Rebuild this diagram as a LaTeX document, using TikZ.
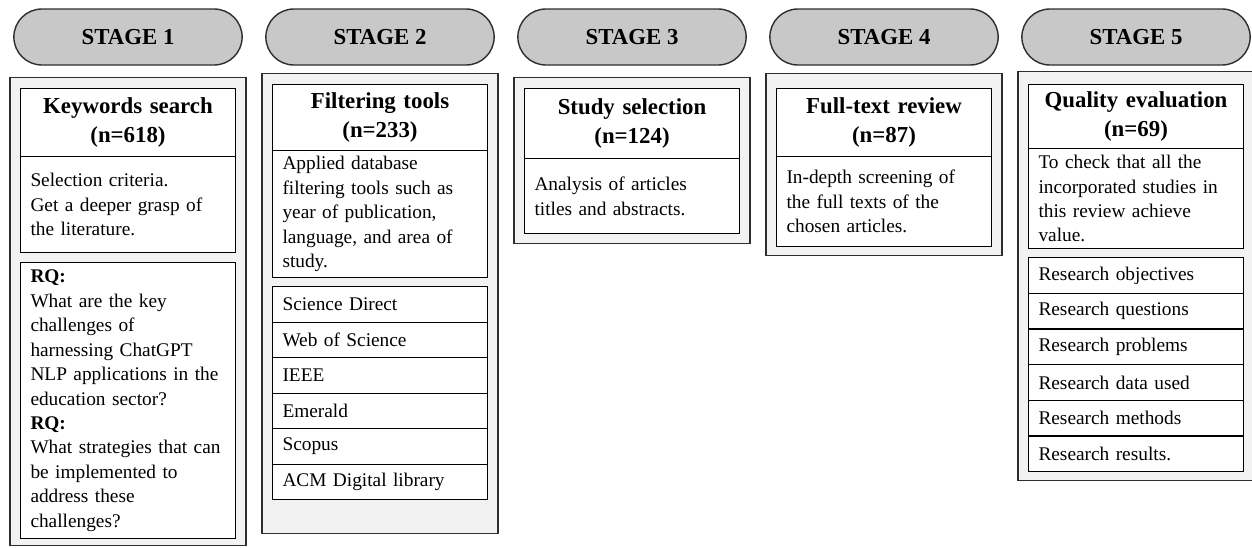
\documentclass[tikz,border=0pt]{standalone}
\usepackage{fontspec}
\setmainfont{Liberation Serif}
\usetikzlibrary{positioning,shapes.misc}

\definecolor{pillgray}{HTML}{C8C8C8}
\definecolor{framegray}{HTML}{F2F2F2}
\definecolor{edgegray}{HTML}{2E2E2E}

\tikzset{
    stagepill/.style={
        rounded rectangle,
        draw=edgegray,
        fill=pillgray,
        line width=0.8pt,
        minimum width=4.8cm,
        minimum height=1.12cm,
        font=\bfseries\fontsize{13}{15}\selectfont
    },
    stageframe/.style={
        draw=edgegray,
        fill=framegray,
        line width=0.8pt,
        minimum width=4.72cm,
        anchor=north,
        outer sep=0pt
    },
    titlebox/.style={
        draw=black,
        fill=white,
        line width=0.7pt,
        outer sep=0pt,
        inner xsep=0.2cm,
        inner ysep=2pt,
        text width=3.9cm,
        align=center,
        font=\bfseries\fontsize{13}{16.4}\selectfont
    },
    descbox/.style={
        titlebox,
        align=left,
        font=\fontsize{11}{13.9}\selectfont
    },
    itembox/.style={
        descbox,
        minimum height=0.71cm
    }
}

\begin{document}
\begin{tikzpicture}
\useasboundingbox (0,0) rectangle (25.04,-10.94);

% stage headers
\foreach \i in {1,...,5}
    \node[stagepill] (stage\i) at ({2.56+5.04*(\i-1)},-0.74) {STAGE \i};

% stage 1
\node[stageframe, minimum height=9.36cm, below=0.24cm of stage1] (f1) {};
\node[titlebox, minimum height=1.36cm, below=0.22cm of f1.north] (t1) {Keywords search\\(n=618)};
\node[descbox, minimum height=1.92cm, below=0pt of t1] (d1)
    {Selection criteria.\\Get a deeper grasp of\\the literature.};
\node[descbox, minimum height=5.52cm, below=0.2cm of d1] (rq1)
    {\textbf{RQ:}\\What are the key\\challenges of\\harnessing ChatGPT\\NLP applications in the\\education sector?\\
     \textbf{RQ:}\\What strategies that can\\be implemented to\\address these\\challenges?};

% stage 2
\node[stageframe, minimum height=9.2cm, below=0.16cm of stage2] (f2) {};
\node[titlebox, minimum height=1.32cm, below=0.22cm of f2.north] (t2) {Filtering tools\\(n=233)};
\node[descbox, minimum height=2.54cm, below=0pt of t2] (d2)
    {Applied database\\filtering tools such as\\year of publication,\\language, and area of\\study.};
\foreach \txt [count=\k] in {Science Direct, Web of Science, IEEE, Emerald, Scopus, ACM Digital library}{
    \pgfmathsetmacro\gap{0.18+0.71*(\k-1)}
    \node[itembox, below=\gap cm of d2.south] (src\k) {\txt};
}

% stage 3
\node[stageframe, minimum height=3.32cm, below=0.24cm of stage3] (f3) {};
\node[titlebox, minimum height=1.4cm, below=0.22cm of f3.north] (t3) {Study selection\\(n=124)};
\node[descbox, minimum height=1.5cm, below=0pt of t3] (d3)
    {Analysis of articles\\titles and abstracts.};

% stage 4
\node[stageframe, minimum height=3.64cm, below=0.16cm of stage4] (f4) {};
\node[titlebox, minimum height=1.36cm, below=0.3cm of f4.north] (t4) {Full-text review\\(n=87)};
\node[descbox, minimum height=1.8cm, below=0pt of t4] (d4)
    {In-depth screening of\\the full texts of the\\chosen articles.};

% stage 5
\node[stageframe, minimum height=8.18cm, below=0.12cm of stage5] (f5) {};
\node[titlebox, minimum height=1.28cm, below=0.26cm of f5.north] (t5) {Quality evaluation\\(n=69)};
\node[descbox, minimum height=2.0cm, below=0pt of t5] (d5)
    {To check that all the\\incorporated studies in\\this review achieve\\value.};
\foreach \txt [count=\k] in {Research objectives, Research questions, Research problems, Research data used, Research methods, Research results.}{
    \pgfmathsetmacro\gap{0.18+0.714*(\k-1)}
    \node[itembox, below=\gap cm of d5.south] (crit\k) {\txt};
}
\end{tikzpicture}
\end{document}
